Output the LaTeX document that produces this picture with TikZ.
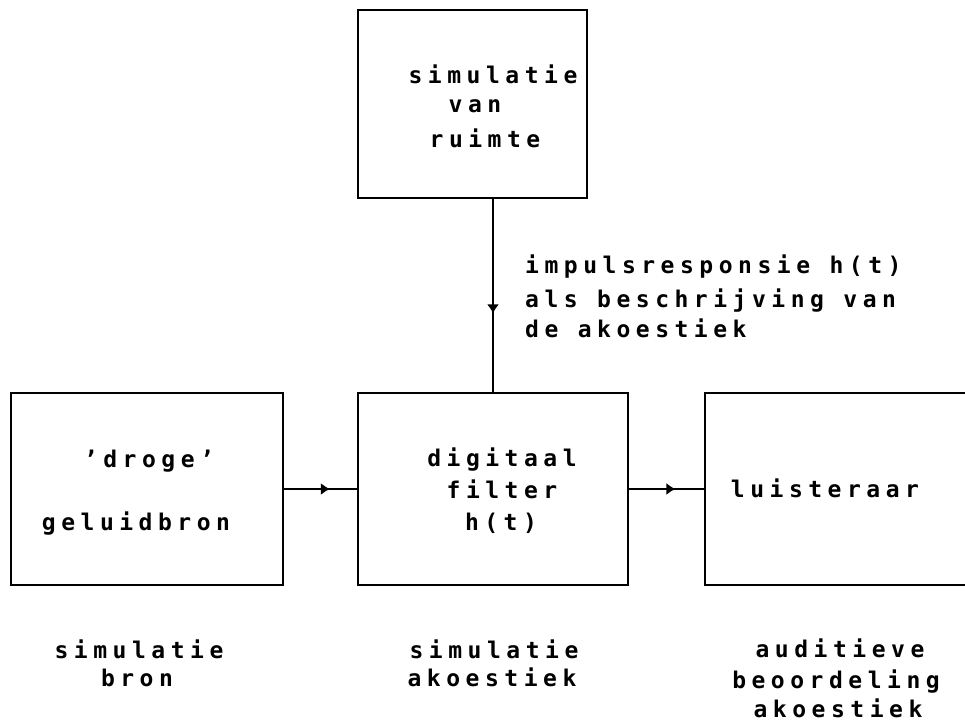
\documentclass[tikz,border=0pt]{standalone}
\usepackage{fontspec}
\setmonofont{DejaVu Sans Mono}
\newfontfamily\dotfont[LetterSpace=24]{DejaVu Sans Mono Bold}
\usetikzlibrary{decorations.markings,arrows.meta}
\tikzset{
  blk/.style={draw, line width=2.2pt, minimum width=#1, inner sep=0pt},
  txt/.style={anchor=base, inner sep=0pt, font=\dotfont\fontsize{23}{27}\selectfont},
  ltxt/.style={anchor=base west, inner sep=0pt, font=\dotfont\fontsize{23}{27}\selectfont},
  conn/.style={line width=2pt, postaction={decorate}, decoration={markings,
     mark=at position #1 with {\arrow{Latex[length=9pt,width=12pt]}}}},
}
\begin{document}
\begin{tikzpicture}[x=1pt,y=-1pt]
\useasboundingbox (0,0) rectangle (965,724);
\clip (0,0) rectangle (965,724);
% boxes
\node[blk=229pt, minimum height=188pt] (room) at (472.5,104) {};
\node[blk=272pt, minimum height=192pt] (src) at (147,489) {};
\node[blk=270pt, minimum height=192pt] (filt) at (493,489) {};
\node[blk=270pt, minimum height=192pt] (list) at (840,489) {};
% connectors
\coordinate (rb) at (493,198);
\draw[conn=0.593] (room.south -| rb) -- (filt.north -| rb);
\draw[conn=0.63] (src.east) -- (filt.west);
\draw[conn=0.62] (filt.east) -- (list.west);
% box texts
\node[txt] (r1) at (493,83) {simulatie};
\node[txt] (r2) at (475,112) {van};
\node[txt] (r3) at (485,147) {ruimte};
\node[txt] (s1) at (149,467) {’droge’};
\node[txt] (s2) at (136,530) {geluidbron};
\node[txt] (f1) at (502,466) {digitaal};
\node[txt] (f2) at (502,498) {filter};
\node[txt] (f3) at (501,530) {h(t)};
\node[txt] (l1) at (825,497) {luisteraar};
% edge label
\node[ltxt] (i1) at (525,273) {impulsresponsie h(t)};
\node[ltxt] (i2) at (525,307) {als beschrijving van};
\node[ltxt] (i3) at (525,337) {de akoestiek};
% bottom labels
\node[txt] (b1) at (139,658) {simulatie};
\node[txt] (b2) at (137,686) {bron};
\node[txt] (c1) at (494,658) {simulatie};
\node[txt] (c2) at (492,686) {akoestiek};
\node[txt] (d1) at (840,657) {auditieve};
\node[txt] (d2) at (836,688) {beoordeling};
\node[txt] (d3) at (838,717) {akoestiek};
\end{tikzpicture}
\end{document}
